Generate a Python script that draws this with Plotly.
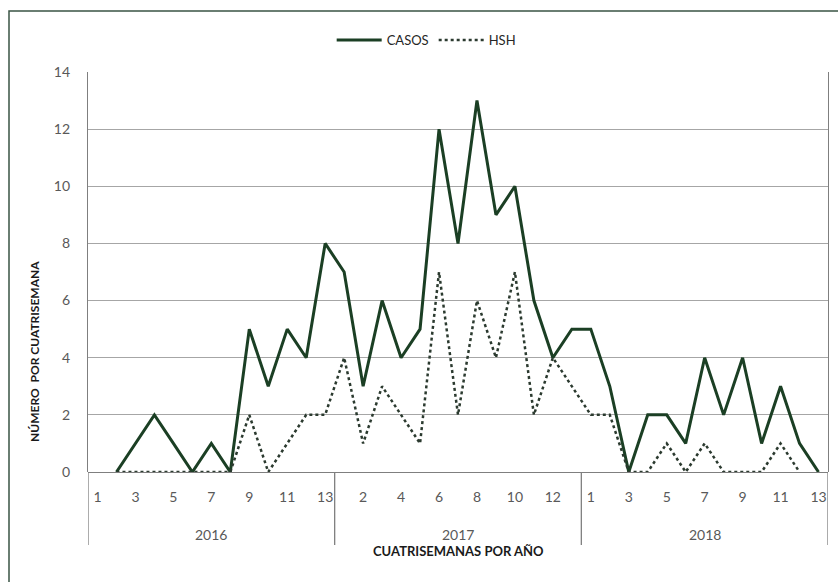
import plotly.graph_objects as go

years = ["2016", "2017", "2018"]
periods = list(range(1, 14))  # cuatrisemanas 1..13 per year

casos_2016 = [None, 0, 1, 2, 1, 0, 1, 0, 5, 3, 5, 4, 8]
casos_2017 = [7, 3, 6, 4, 5, 12, 8, 13, 9, 10, 6, 4, 5]
casos_2018 = [5, 3, 0, 2, 2, 1, 4, 2, 4, 1, 3, 1, 0]

hsh_2016 = [None, 0, 0, 0, 0, 0, 0, 0, 2, 0, 1, 2, 2]
hsh_2017 = [4, 1, 3, 2, 1, 7, 2, 6, 4, 7, 2, 4, 3]
hsh_2018 = [2, 2, 0, 0, 1, 0, 1, 0, 0, 0, 1, 0, None]

shown_ticks = {
    "2016": [1, 3, 5, 7, 9, 11, 13],
    "2017": [2, 4, 6, 8, 10, 12],
    "2018": [1, 3, 5, 7, 9, 11, 13],
}

casos = casos_2016 + casos_2017 + casos_2018
hsh = hsh_2016 + hsh_2017 + hsh_2018
n_per = len(periods)
x = list(range(len(years) * n_per))

tickvals, ticktext = [], []
for yi, yr in enumerate(years):
    for p in shown_ticks[yr]:
        tickvals.append(yi * n_per + periods.index(p))
        ticktext.append(str(p))

GREEN = "#1b3f24"
FONT = "Lato"

fig = go.Figure()
fig.add_trace(go.Scatter(x=x, y=casos, mode="lines", name="CASOS",
                         line=dict(color=GREEN, width=3), connectgaps=False))
fig.add_trace(go.Scatter(x=x, y=hsh, mode="lines", name="HSH",
                         line=dict(color="#2b3a2f", width=2.5, dash="dot"), connectgaps=False))

W, H = 838, 582
L, R, T, B = 88, 10, 72, 110
pw, ph = W - L - R, H - T - B

def px_to_py(ypix):
    return (H - B - ypix) / ph

def px_to_px(xpix):
    return (xpix - L) / pw

shapes = []
for k in range(len(years) + 1):
    shapes.append(dict(type="line", xref="x", yref="paper",
                       x0=k * n_per - 0.5, x1=k * n_per - 0.5,
                       y0=0, y1=px_to_py(545),
                       line=dict(color="#7f7f7f", width=1.3)))
# outer chart frame
shapes.append(dict(type="rect", xref="paper", yref="paper",
                   x0=px_to_px(9), x1=px_to_px(850),
                   y0=px_to_py(600), y1=px_to_py(11),
                   line=dict(color="#3a5444", width=1.5), layer="below"))

annotations = []
for yi, yr in enumerate(years):
    annotations.append(dict(x=yi * n_per + (n_per - 1) / 2, y=px_to_py(534),
                            xref="x", yref="paper", yanchor="middle", text=yr, showarrow=False,
                            font=dict(family=FONT, size=14, color="#595959")))
annotations.append(dict(x=px_to_px(458), y=px_to_py(551), xref="paper", yref="paper",
                        yanchor="middle",
                        text="<b>CUATRISEMANAS POR AÑO</b>", showarrow=False,
                        font=dict(family=FONT, size=13, color="#1a1a1a")))
annotations.append(dict(x=px_to_px(34), y=px_to_py(352), xref="paper", yref="paper",
                        xanchor="center", yanchor="middle",
                        text="<b>NÚMERO  POR CUATRISEMANA</b>", showarrow=False, textangle=-90,
                        font=dict(family=FONT, size=12, color="#1a1a1a")))

fig.update_layout(
    width=W, height=H,
    margin=dict(l=L, r=R, t=T, b=B),
    paper_bgcolor="white", plot_bgcolor="white",
    font=dict(family=FONT),
    showlegend=True,
    legend=dict(orientation="h", x=0.457, xanchor="center", y=px_to_py(40), yanchor="middle",
                font=dict(family=FONT, size=13, color="#262626"),
                itemwidth=45, bgcolor="rgba(0,0,0,0)"),
    xaxis=dict(range=[-0.5, len(x) - 0.5], tickmode="array", tickvals=tickvals, ticktext=ticktext,
               showgrid=False, zeroline=False, showline=False,
               ticks="outside", ticklen=12, tickcolor="rgba(0,0,0,0)",
               tickfont=dict(family=FONT, size=14, color="#595959")),
    yaxis=dict(range=[0, 14], dtick=2, showgrid=True, gridcolor="#a6a6a6", gridwidth=1.2,
               zeroline=True, zerolinecolor="#7f7f7f", zerolinewidth=1.3,
               showline=True, linecolor="#7f7f7f", linewidth=1.3, mirror=True,
               ticks="outside", ticklen=14, tickcolor="rgba(0,0,0,0)",
               tickfont=dict(family=FONT, size=14, color="#595959")),
    shapes=shapes, annotations=annotations,
)

fig.write_html("out.html", config={"displayModeBar": False},
               post_script="document.body.style.margin='0';document.body.style.overflow='hidden';")
